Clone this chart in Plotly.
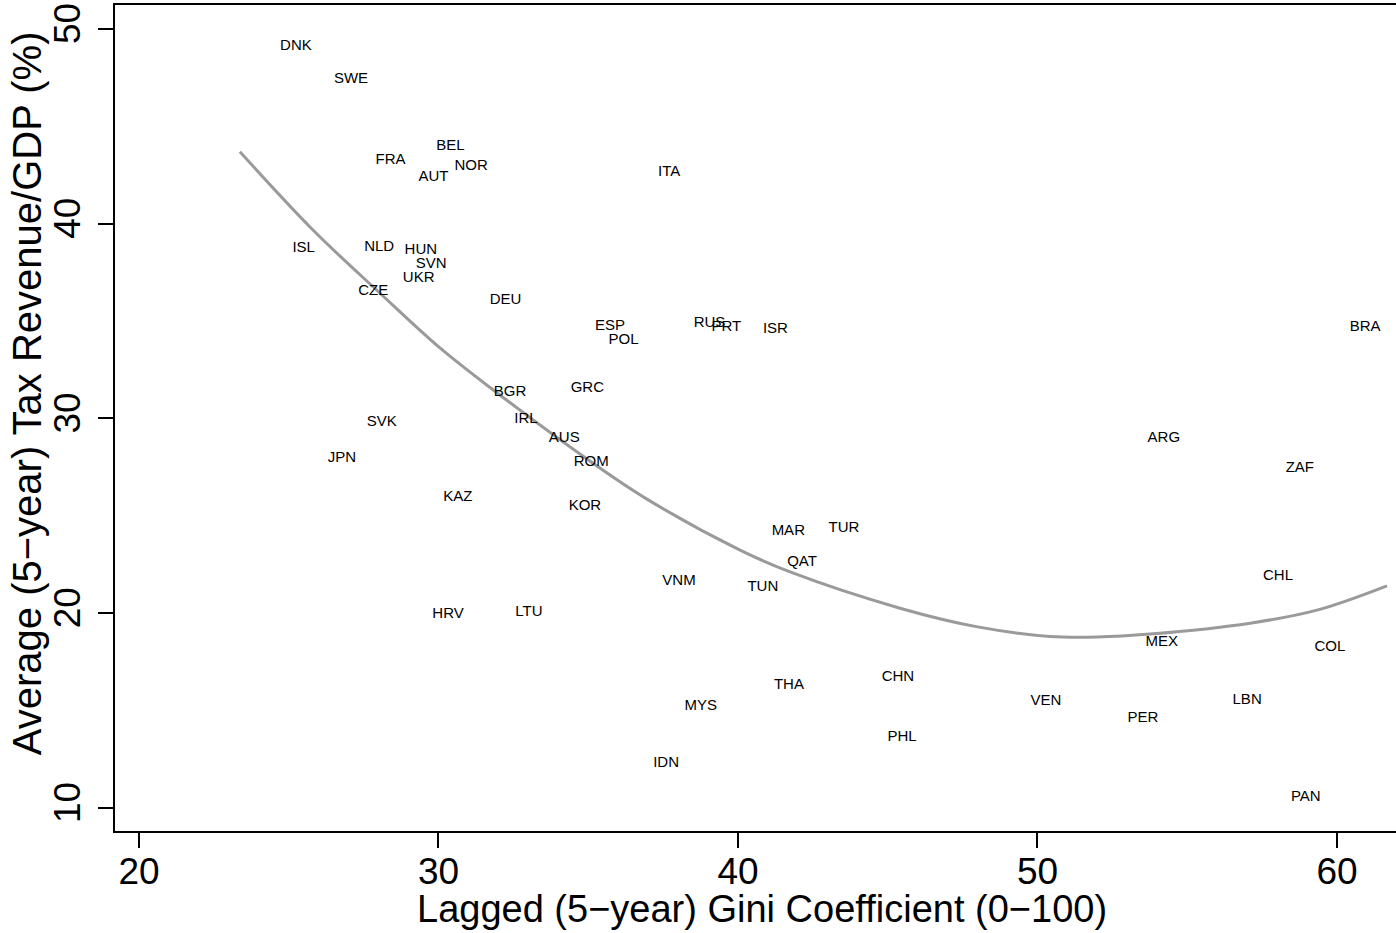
import plotly.graph_objects as go

# Country labels and their positions
countries = ["DNK", "SWE", "FRA", "BEL", "NOR", "AUT", "ITA", "ISL", "NLD", "HUN",
             "SVN", "UKR", "CZE", "DEU", "ESP", "POL", "RUS", "PRT", "ISR", "BRA",
             "BGR", "GRC", "IRL", "AUS", "SVK", "JPN", "ROM", "ARG", "ZAF", "KAZ",
             "KOR", "MAR", "TUR", "QAT", "VNM", "TUN", "CHL", "HRV", "LTU", "MEX",
             "COL", "CHN", "THA", "VEN", "LBN", "MYS", "PER", "PHL", "IDN", "PAN"]

gini = [25.24, 27.08, 28.40, 30.40, 31.09, 29.83, 37.70, 25.50, 28.02, 29.41,
        29.76, 29.34, 27.82, 32.24, 35.73, 36.18, 39.05, 39.61, 41.25, 60.94,
        32.39, 34.97, 32.92, 34.20, 28.11, 26.78, 35.10, 54.22, 58.76, 30.65,
        34.89, 41.68, 43.54, 42.14, 38.03, 40.83, 58.03, 30.32, 33.02, 54.15,
        59.76, 45.34, 41.70, 50.28, 57.00, 38.76, 53.52, 45.48, 37.60, 58.96]

tax = [49.12, 47.41, 43.26, 43.98, 42.97, 42.37, 42.66, 38.72, 38.81, 38.65,
       37.94, 37.20, 36.53, 36.06, 34.72, 34.04, 34.91, 34.68, 34.57, 34.69,
       31.37, 31.57, 29.96, 28.97, 29.81, 27.97, 27.77, 28.99, 27.45, 25.96,
       25.50, 24.19, 24.36, 22.64, 21.65, 21.35, 21.92, 19.95, 20.06, 18.49,
       18.28, 16.72, 16.31, 15.49, 15.54, 15.23, 14.61, 13.64, 12.30, 10.53]

# Fitted quadratic curve
fit_x = [23.37, 25.81, 28.05, 30.05, 31.83, 35.17, 36.96, 40.07, 41.74, 45.41,
         48.0, 50.42, 52.0, 53.76, 57.10, 59.33, 61.67]
fit_y = [43.70, 39.68, 36.43, 33.62, 31.46, 27.69, 25.86, 23.24, 22.12, 20.26,
         19.30, 18.81, 18.78, 18.93, 19.49, 20.16, 21.41]

x_ticks = [20, 30, 40, 50, 60]
y_ticks = [10, 20, 30, 40, 50]

x_title = "Lagged (5\u2212year) Gini Coefficient (0\u2212100)"
y_title = "Average (5\u2212year) Tax Revenue/GDP (%)"

FONT = "Liberation Sans, Arial, Helvetica, sans-serif"

fig = go.Figure()

fig.add_trace(go.Scatter(
    x=fit_x, y=fit_y, mode="lines",
    line=dict(color="#9a9a9a", width=3, shape="spline", smoothing=1.0),
    hoverinfo="skip", showlegend=False,
))

fig.add_trace(go.Scatter(
    x=gini, y=tax, mode="text", text=countries,
    textposition="middle center",
    textfont=dict(family=FONT, size=15, color="black"),
    showlegend=False,
))

fig.update_layout(
    width=1396, height=933,
    margin=dict(l=115, r=0, t=5, b=102),
    paper_bgcolor="white", plot_bgcolor="white",
    font=dict(family=FONT, color="black"),
    showlegend=False,
    xaxis=dict(
        range=[19.20, 61.97], tickvals=x_ticks,
        ticks="outside", ticklen=15, tickwidth=2, tickcolor="black",
        showline=True, linewidth=2, linecolor="black", mirror=True,
        showgrid=False, zeroline=False, ticklabelstandoff=-8,
        tickfont=dict(family=FONT, size=37, color="black"),
    ),
    yaxis=dict(
        range=[8.82, 51.23], tickvals=y_ticks, tickangle=-90,
        ticks="outside", ticklen=15, tickwidth=2, tickcolor="black",
        showline=True, linewidth=2, linecolor="black", mirror=False,
        showgrid=False, zeroline=False, ticklabelstandoff=3,
        tickfont=dict(family=FONT, size=37, color="black"),
    ),
    annotations=[
        dict(text=x_title, xref="paper", yref="paper", x=0.505, y=-0.094,
             xanchor="center", yanchor="middle", showarrow=False,
             font=dict(family=FONT, size=38, color="black")),
        dict(text=y_title, xref="paper", yref="paper", x=-0.0687, y=0.530,
             xanchor="center", yanchor="middle", showarrow=False, textangle=-90,
             font=dict(family=FONT, size=40, color="black")),
    ],
)

fig.write_html("out.html", config={"displayModeBar": False},
               post_script="document.body.style.margin='0';document.body.style.overflow='hidden';")
